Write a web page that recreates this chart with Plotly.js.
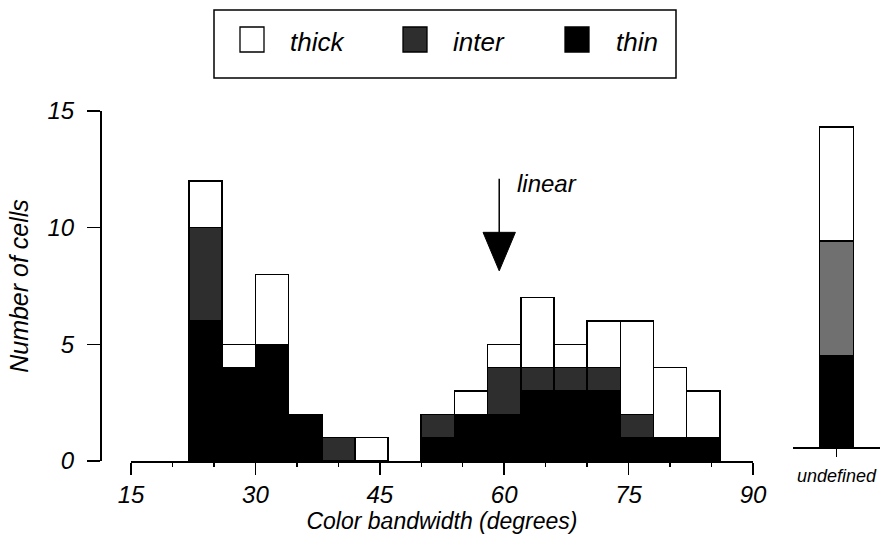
<!DOCTYPE html>
<html>
<head>
<meta charset="utf-8">
<script src="https://cdn.plot.ly/plotly-3.0.1.min.js"></script>
<style>html,body{margin:0;padding:0;background:#fff;}#chart{width:880px;height:541px;}</style>
</head>
<body>
<div id="chart"></div>
<script>
// ---- data ----
const seriesNames = ["thick", "inter", "thin"];
const binCenters = [24, 28, 32, 36, 40, 44, 52, 56, 60, 64, 68, 72, 76, 80, 84];
const thinCounts  = [6, 4, 5, 2, 0, 0, 1, 2, 2, 3, 3, 3, 1, 1, 1];
const interCounts = [4, 0, 0, 0, 1, 0, 1, 0, 2, 1, 1, 1, 1, 0, 0];
const thickCounts = [2, 1, 3, 0, 0, 1, 0, 1, 1, 3, 1, 2, 4, 3, 2];
const undefCategory = ["undefined"];
const undefThin  = [4];
const undefInter = [5];
const undefThick = [5];
const xTickVals = [15, 30, 45, 60, 75, 90];
const yTickVals = [0, 5, 10, 15];
const linearValue = 59.4;
const binWidth = 4;

// ---- layout geometry ----
const W = 880, H = 541;
const M = {l: 100, r: 0, t: 111, b: 80};
const PW = W - M.l - M.r, PH = H - M.t - M.b;
const px = v => (v - M.l) / PW;
const py = v => (H - M.b - v) / PH;

const FONT = "Liberation Sans, Arial, sans-serif";
const colThin = "#000000", colInter = "#2e2e2e", colInterU = "#707070", colThick = "#ffffff";
const outline = {color: "#000", width: 1.6};

function barTrace(x, y, color, name, xa, ya, width) {
  return {type: "bar", x: x, y: y, name: name, xaxis: xa, yaxis: ya,
          width: x.map(() => width), marker: {color: color, line: outline},
          showlegend: false, hoverinfo: "x+y+name"};
}

const traces = [
  barTrace(binCenters, thinCounts, colThin, seriesNames[2], "x", "y", binWidth),
  barTrace(binCenters, interCounts, colInter, seriesNames[1], "x", "y", binWidth),
  barTrace(binCenters, thickCounts, colThick, seriesNames[0], "x", "y", binWidth),
  barTrace(undefCategory, undefThin, colThin, seriesNames[2], "x2", "y2", 0.39),
  barTrace(undefCategory, undefInter, colInterU, seriesNames[1], "x2", "y2", 0.39),
  barTrace(undefCategory, undefThick, colThick, seriesNames[0], "x2", "y2", 0.39)
];

const itFont = (s) => ({family: FONT, size: s, color: "#000", style: "italic"});

// legend drawn manually
const legendItems = [
  {name: seriesNames[0], fill: colThick, sq: 240, tx: 288},
  {name: seriesNames[1], fill: colInter, sq: 403, tx: 451},
  {name: seriesNames[2], fill: colThin, sq: 565, tx: 614}
];
const shapes = [
  {type: "rect", xref: "paper", yref: "paper", x0: px(214), x1: px(676), y0: py(78), y1: py(10),
   line: {color: "#000", width: 1.5}, fillcolor: "#fff", layer: "below"}
];
const annotations = [];
legendItems.forEach(it => {
  shapes.push({type: "rect", xref: "paper", yref: "paper", x0: px(it.sq), x1: px(it.sq + 24),
    y0: py(52), y1: py(27), line: {color: "#000", width: 1.3}, fillcolor: it.fill});
  annotations.push({xref: "paper", yref: "paper", x: px(it.tx), y: py(42), xanchor: "left", yanchor: "middle",
    text: it.name, showarrow: false, font: itFont(26)});
});
// "linear" arrow
shapes.push({type: "line", xref: "x", yref: "y", x0: linearValue, x1: linearValue, y0: 9.7, y1: 12.1,
  line: {color: "#000", width: 1.5}});
shapes.push({type: "path", xref: "x", yref: "y",
  path: `M ${linearValue - 1.95} 9.8 L ${linearValue + 1.95} 9.8 L ${linearValue} 8.15 Z`,
  fillcolor: "#000", line: {color: "#000", width: 1}});
annotations.push({xref: "x", yref: "y", x: linearValue + 1.9, y: 11.9, xanchor: "left", yanchor: "middle",
  text: "linear", showarrow: false, font: itFont(24)});

const layout = {
  width: W, height: H,
  margin: M,
  paper_bgcolor: "#fff", plot_bgcolor: "rgba(0,0,0,0)",
  barmode: "stack", bargap: 0,
  showlegend: false,
  font: itFont(20),
  xaxis: {
    domain: [px(131), px(753)], range: [15, 90], anchor: "y",
    tickvals: xTickVals, ticks: "outside", ticklen: 12, tickwidth: 1.5, tickcolor: "#000",
    minor: {dtick: 5, tick0: 15, ticks: "outside", ticklen: 4, tickwidth: 1.3, tickcolor: "#000"},
    showline: true, linecolor: "#000", linewidth: 1.5, showgrid: false, zeroline: false,
    tickfont: itFont(24), ticklabelstandoff: 0,
    title: {text: "Color bandwidth (degrees)", font: itFont(23), standoff: 4}
  },
  xaxis2: {
    domain: [px(793), 1], range: [-0.5, 0.5], anchor: "y2", type: "category",
    ticks: "outside", ticklen: 8, tickwidth: 1.5, tickcolor: "#000",
    showline: true, linecolor: "#000", linewidth: 1.5, showgrid: false, zeroline: false,
    tickfont: itFont(18), ticklabelstandoff: 4
  },
  yaxis: {
    domain: [0, 1], range: [0, 15], anchor: "free", position: 0,
    tickvals: yTickVals, ticks: "outside", ticklen: 13, tickwidth: 1.5, tickcolor: "#000",
    showline: true, linecolor: "#000", linewidth: 1.5, showgrid: false, zeroline: false,
    tickfont: itFont(24), ticklabelstandoff: 8,
    title: {text: "Number of cells", font: itFont(25), standoff: 10}
  },
  yaxis2: {
    domain: [py(447), 1], range: [0, 14.7], anchor: "x2",
    visible: false, showline: false, showgrid: false, zeroline: false
  },
  shapes: shapes,
  annotations: annotations
};

Plotly.newPlot("chart", traces, layout, {displayModeBar: false, staticPlot: true});
</script>
</body>
</html>
